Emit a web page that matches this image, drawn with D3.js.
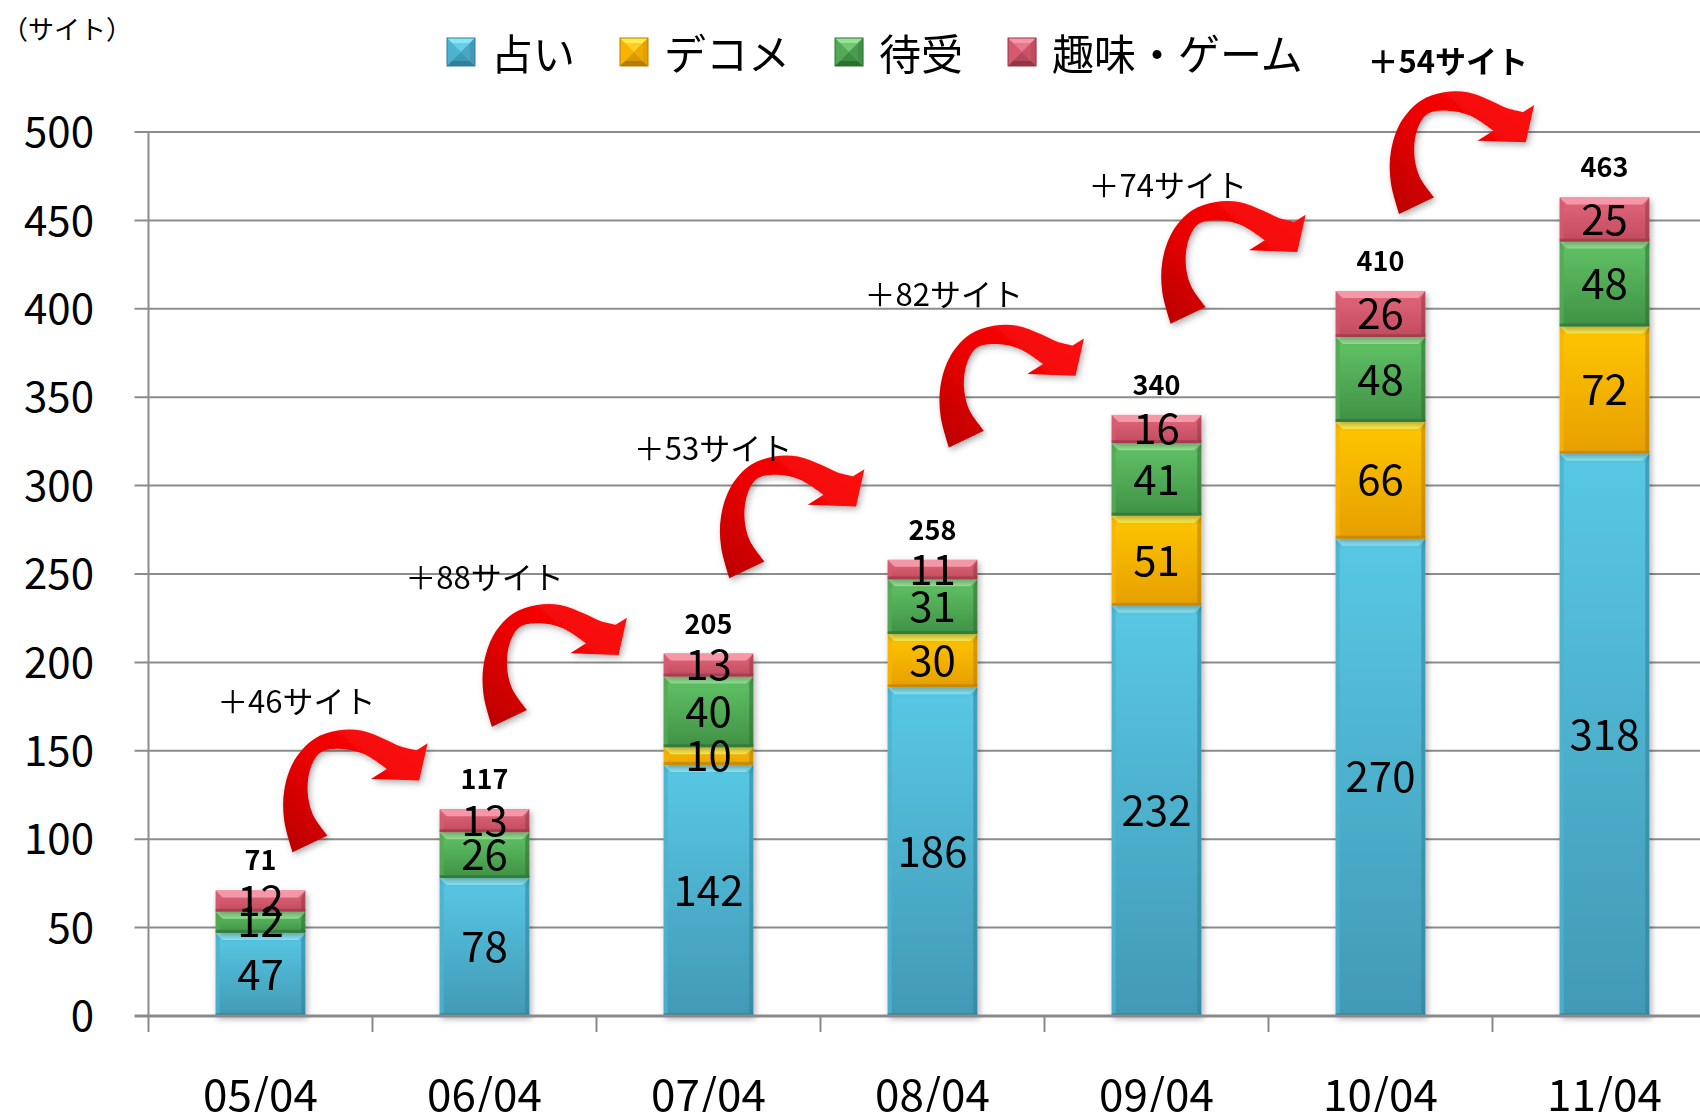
<!DOCTYPE html>
<html>
<head>
<meta charset="utf-8">
<script src="https://cdn.jsdelivr.net/npm/d3@7"></script>
<style>
    html, body { margin: 0; padding: 0; background: #fff; }
    svg { display: block; font-family: "Noto Sans CJK JP", "Noto Sans", sans-serif; }
</style>
</head>
<body>
<div id="chart"></div>
<script>
// data
const months = ['05/04', '06/04', '07/04', '08/04', '09/04', '10/04', '11/04'];
const seriesNames = ['占い', 'デコメ', '待受', '趣味・ゲーム'];
const uranai = [47, 78, 142, 186, 232, 270, 318];
const decome = [0, 0, 10, 30, 51, 66, 72];
const machiuke = [12, 26, 40, 31, 41, 48, 48];
const shumi = [12, 13, 13, 11, 16, 26, 25];
const yTicks = [0, 50, 100, 150, 200, 250, 300, 350, 400, 450, 500];
const unitLabel = '（サイト）';

// growth call-outs: label, where it sits (category units / site units), arrow peak
const growthLabels = ['＋46サイト', '＋88サイト', '＋53サイト', '＋82サイト', '＋74サイト', '＋54サイト'];
const growthLabelAt = [0.66, 1.50, 2.52, 3.55, 4.55, 5.80];
const growthLabelLevel = [179, 249, 322, 409, 471, 541];
const arrowAt = [0.60, 1.49, 2.55, 3.53, 4.52, 5.54];
const arrowLevel = [162, 233, 317, 391, 461, 523];

const width = 1700;
const height = 1112;
const plot = { left: 148.5, right: 148.5 + 7 * 224, top: 132, bottom: 1016 };

const colors = [
    { key: 'uranai',   top: '#58c8e5', bottom: '#4299b5', light: '#8ae6f6', mid: '#4bb3d0', dark: '#2f7f99' },
    { key: 'decome',   top: '#ffc600', bottom: '#e69f00', light: '#ffec4d', mid: '#f7b400', dark: '#b57d00' },
    { key: 'machiuke', top: '#62c466', bottom: '#3f9145', light: '#95e494', mid: '#52aa55', dark: '#2e6e33' },
    { key: 'shumi',    top: '#e2677c', bottom: '#c24b5e', light: '#f597a6', mid: '#d65a6f', dark: '#923646' }
];

const rows = months.map(function (m, i) {
    return { month: m, uranai: uranai[i], decome: decome[i], machiuke: machiuke[i], shumi: shumi[i] };
});
const keys = colors.map(function (c) { return c.key; });
const stacked = d3.stack().keys(keys)(rows);
const totals = rows.map(function (r) { return d3.sum(keys, function (k) { return r[k]; }); });

const x = d3.scaleBand()
    .domain(months)
    .range([plot.left, plot.right])
    .paddingInner(0.6)
    .paddingOuter(0.3);
const xi = d3.scaleLinear().domain([0, months.length]).range([plot.left, plot.right]);
const y = d3.scaleLinear().domain([0, 500]).range([plot.bottom, plot.top]);

const svg = d3.select('#chart')
  .append('svg')
    .attr('width', width)
    .attr('height', height);

const defs = svg.append('defs');

colors.forEach(function (c) {
    const g = defs.append('linearGradient')
        .attr('id', 'grad-' + c.key)
        .attr('x1', 0).attr('y1', 0).attr('x2', 0).attr('y2', 1);
    g.append('stop').attr('offset', 0).attr('stop-color', c.top);
    g.append('stop').attr('offset', 1).attr('stop-color', c.bottom);
});

const arrowGrad = defs.append('linearGradient')
    .attr('id', 'grad-arrow')
    .attr('x1', 1).attr('y1', 0).attr('x2', 0).attr('y2', 1);
arrowGrad.append('stop').attr('offset', 0).attr('stop-color', '#ff1212');
arrowGrad.append('stop').attr('offset', 0.5).attr('stop-color', '#ee0000');
arrowGrad.append('stop').attr('offset', 1).attr('stop-color', '#b80000');

const shadow = defs.append('filter')
    .attr('id', 'shadow')
    .attr('x', '-20%').attr('y', '-20%').attr('width', '140%').attr('height', '140%');
shadow.append('feDropShadow')
    .attr('dx', 2).attr('dy', 3).attr('stdDeviation', 3)
    .attr('flood-color', '#000').attr('flood-opacity', 0.3);

// grid + axes
const grid = svg.append('g').classed('grid', true);
grid.selectAll('line')
    .data(yTicks.filter(function (t) { return t > 0; }))
  .enter().append('line')
    .attr('x1', plot.left - 14)
    .attr('x2', width)
    .attr('y1', function (d) { return y(d); })
    .attr('y2', function (d) { return y(d); })
    .attr('stroke', '#8c8c8c')
    .attr('stroke-width', 2);

grid.append('line')
    .attr('x1', plot.left).attr('x2', plot.left)
    .attr('y1', y(500)).attr('y2', y(0))
    .attr('stroke', '#8c8c8c')
    .attr('stroke-width', 2);

svg.append('g')
    .selectAll('text')
    .data(yTicks)
  .enter().append('text')
    .attr('x', 94)
    .attr('y', function (d) { return y(d); })
    .attr('dy', '0.36em')
    .attr('text-anchor', 'end')
    .attr('font-size', 42)
    .attr('fill', '#000')
    .text(function (d) { return d; });

svg.append('text')
    .attr('x', 2)
    .attr('y', 27)
    .attr('dominant-baseline', 'central')
    .attr('font-size', 26)
    .text(unitLabel);

// bars
const barGroup = svg.append('g').classed('bars', true);
const bev = 7;

stacked.forEach(function (layer, li) {
    const c = colors[li];
    const segs = barGroup.append('g')
        .attr('filter', 'url(#shadow)')
        .selectAll('g')
        .data(layer.filter(function (d) { return d[1] - d[0] > 0; }))
      .enter().append('g');

    segs.append('rect')
        .attr('x', function (d) { return x(d.data.month); })
        .attr('y', function (d) { return y(d[1]); })
        .attr('width', x.bandwidth())
        .attr('height', function (d) { return y(d[0]) - y(d[1]); })
        .attr('fill', 'url(#grad-' + c.key + ')');

    // top bevel
    segs.append('polygon')
        .attr('points', function (d) {
            const x0 = x(d.data.month), x1 = x0 + x.bandwidth(), t = y(d[1]);
            return [[x0, t], [x1, t], [x1 - bev, t + bev], [x0 + bev, t + bev]].join(' ');
        })
        .attr('fill', c.light);

    // side bevels
    segs.append('polygon')
        .attr('points', function (d) {
            const x0 = x(d.data.month), t = y(d[1]), b = y(d[0]);
            return [[x0, t], [x0 + 4, t + bev], [x0 + 4, b - 3], [x0, b]].join(' ');
        })
        .attr('fill', c.mid)
        .attr('opacity', 0.8);
    segs.append('polygon')
        .attr('points', function (d) {
            const x1 = x(d.data.month) + x.bandwidth(), t = y(d[1]), b = y(d[0]);
            return [[x1, t], [x1 - 4, t + bev], [x1 - 4, b - 3], [x1, b]].join(' ');
        })
        .attr('fill', c.dark)
        .attr('opacity', 0.55);
    segs.append('rect')
        .attr('x', function (d) { return x(d.data.month); })
        .attr('y', function (d) { return y(d[0]) - 3; })
        .attr('width', x.bandwidth())
        .attr('height', 3)
        .attr('fill', c.dark)
        .attr('opacity', 0.6);
});

// x axis
svg.append('line')
    .attr('x1', plot.left - 14).attr('x2', width)
    .attr('y1', y(0)).attr('y2', y(0))
    .attr('stroke', '#8a8a8a')
    .attr('stroke-width', 3);

svg.append('g')
    .selectAll('line')
    .data(d3.range(months.length + 1))
  .enter().append('line')
    .attr('x1', function (d) { return xi(d); })
    .attr('x2', function (d) { return xi(d); })
    .attr('y1', y(0))
    .attr('y2', y(0) + 16)
    .attr('stroke', '#8a8a8a')
    .attr('stroke-width', 2);

svg.append('g')
    .selectAll('text')
    .data(months)
  .enter().append('text')
    .attr('x', function (d) { return x(d) + x.bandwidth() / 2; })
    .attr('y', 1092)
    .attr('dominant-baseline', 'central')
    .attr('text-anchor', 'middle')
    .attr('font-size', 44)
    .text(function (d) { return d; });

// segment labels
const labelGroup = svg.append('g').classed('labels', true);
stacked.forEach(function (layer) {
    labelGroup.selectAll(null)
        .data(layer.filter(function (d) { return d[1] - d[0] > 0; }))
      .enter().append('text')
        .attr('x', function (d) { return x(d.data.month) + x.bandwidth() / 2; })
        .attr('y', function (d) { return y((d[0] + d[1]) / 2); })
        .attr('dy', '0.36em')
        .attr('text-anchor', 'middle')
        .attr('font-size', 42)
        .text(function (d) { return d[1] - d[0]; });
});

// totals
labelGroup.selectAll(null)
    .data(totals)
  .enter().append('text')
    .attr('x', function (d, i) { return x(months[i]) + x.bandwidth() / 2; })
    .attr('y', function (d) { return y(d) - 20; })
    .attr('text-anchor', 'middle')
    .attr('font-size', 27)
    .attr('font-weight', 'bold')
    .text(function (d) { return d; });

// curved growth arrows
const outer = [[9.7, 122.7], [1.3, 91], [1.3, 61], [11.3, 31], [31.3, 9.3], [54.7, 1], [78, 1], [101.3, 9.3], [118, 17], [133.4, 20.8]];
const head = [[144.7, 13.7], [136.3, 51], [88, 49.3]];
const inner = [[103.9, 39.3], [80, 24], [58, 19.3], [38, 22.7], [28, 37.7], [24.7, 61], [29.7, 84.3], [44.7, 106]];
const curve = d3.line().curve(d3.curveCatmullRom);
const arrowPath = curve(outer) +
    head.map(function (p) { return 'L' + p[0] + ',' + p[1]; }).join('') +
    curve(inner).replace(/^M/, 'L') + 'Z';

svg.append('g')
    .selectAll('path')
    .data(arrowAt)
  .enter().append('path')
    .attr('d', arrowPath)
    .attr('transform', function (d, i) { return 'translate(' + xi(d) + ',' + y(arrowLevel[i]) + ')'; })
    .attr('fill', 'url(#grad-arrow)')
    .attr('filter', 'url(#shadow)');

svg.append('g')
    .selectAll('text')
    .data(growthLabels)
  .enter().append('text')
    .attr('x', function (d, i) { return xi(growthLabelAt[i]); })
    .attr('y', function (d, i) { return y(growthLabelLevel[i]); })
    .attr('dominant-baseline', 'central')
    .attr('text-anchor', 'middle')
    .attr('font-size', 31)
    .attr('font-weight', function (d, i) { return i === growthLabels.length - 1 ? 'bold' : 'normal'; })
    .text(function (d) { return d; });

// legend
const legend = svg.append('g').classed('legend', true);
let lx = 447;
colors.forEach(function (c, i) {
    const s = 28, ly = 38;
    const item = legend.append('g').attr('transform', 'translate(' + lx + ',' + ly + ')');
    item.append('rect').attr('width', s).attr('height', s).attr('fill', c.mid);
    item.append('polygon').attr('points', [[0, 0], [s, 0], [s / 2, s / 2]].join(' ')).attr('fill', c.light);
    item.append('polygon').attr('points', [[0, s], [s, s], [s / 2, s / 2]].join(' ')).attr('fill', c.dark);
    item.append('polygon').attr('points', [[s, 0], [s, s], [s / 2, s / 2]].join(' ')).attr('fill', c.bottom);
    item.append('rect').attr('x', 5).attr('y', 5).attr('width', s - 10).attr('height', s - 10)
        .attr('fill', c.mid).attr('opacity', 0.5);
    item.append('rect').attr('width', s).attr('height', s)
        .attr('fill', 'none').attr('stroke', c.dark).attr('stroke-width', 1);
    const t = item.append('text')
        .attr('x', s + 16)
        .attr('y', s / 2 - 1)
        .attr('dominant-baseline', 'central')
        .attr('font-size', 42)
        .text(seriesNames[i]);
    lx += s + 16 + t.node().getComputedTextLength() + 45;
});
</script>
</body>
</html>
